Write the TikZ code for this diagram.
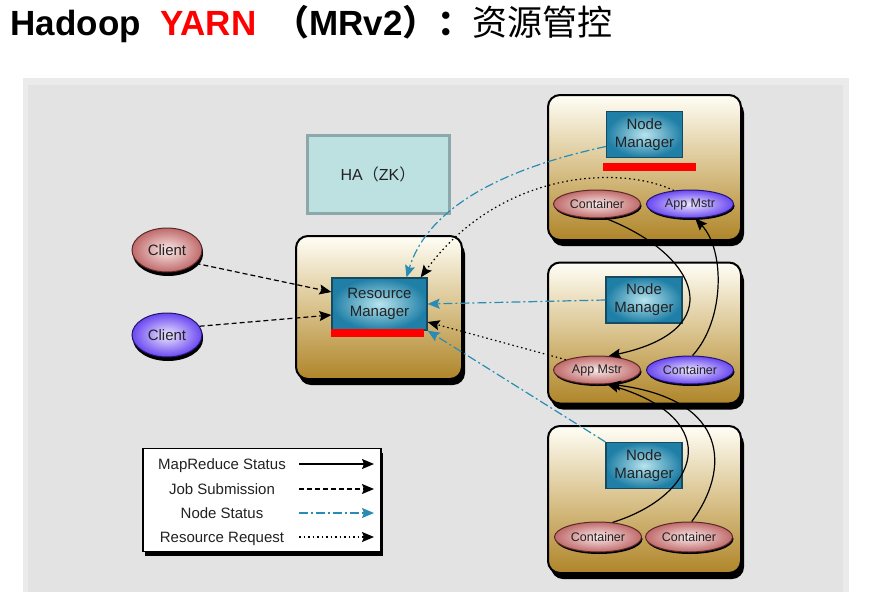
\documentclass[tikz,border=0pt]{standalone}
\usepackage{fontspec}
\setmainfont{Liberation Sans}
\newfontfamily\cjk{Noto Sans CJK SC}
\usetikzlibrary{shapes.geometric,shadows,arrows.meta}
\definecolor{tanTop}{HTML}{FFFEF6}
\definecolor{tanMid}{HTML}{D9C28C}
\definecolor{tanBot}{HTML}{AF8529}
\definecolor{nmIn}{HTML}{B8E4EE}
\definecolor{nmOut}{HTML}{1F7FA6}
\definecolor{nmDraw}{HTML}{164A60}
\definecolor{pinkIn}{HTML}{FBEAEA}
\definecolor{pinkOut}{HTML}{C06A6A}
\definecolor{pinkDraw}{HTML}{5A2A2A}
\definecolor{purpIn}{HTML}{EEE8FF}
\definecolor{purpOut}{HTML}{6A48F0}
\definecolor{purpDraw}{HTML}{231470}
\definecolor{nsBlue}{HTML}{2B8CB3}
\definecolor{haFill}{HTML}{BDE0E1}
\definecolor{haDraw}{HTML}{8CA8AA}
\definecolor{panelOuter}{HTML}{EBEBEB}
\definecolor{panelInner}{HTML}{E3E3E3}
\definecolor{txt}{HTML}{222222}
\tikzset{
 tanbox/.style={rectangle, rounded corners=12pt, draw=black, line width=2pt,
   top color=tanTop, bottom color=tanBot, middle color=tanMid,
   drop shadow={shadow xshift=3pt,shadow yshift=-6pt,fill=black,opacity=1}},
 nmbox/.style={rectangle, draw=nmDraw, line width=1.2pt, inner color=nmIn, outer color=nmOut,
   minimum width=76pt, minimum height=46pt, align=center, inner sep=0pt,
   font=\fontsize{15}{18}\selectfont, text=txt},
 pinkell/.style={ellipse, draw=pinkDraw, line width=1pt, inner color=pinkIn, outer color=pinkOut,
   minimum width=87pt, minimum height=28pt, inner sep=0pt, text=txt,
   font=\fontsize{12.5}{14}\selectfont,
   drop shadow={shadow xshift=1pt,shadow yshift=-2pt,fill=black,opacity=1}},
 purpell/.style={pinkell, draw=purpDraw, inner color=purpIn, outer color=purpOut},
 redbar/.style={rectangle, fill=red, draw=none, inner sep=0pt, minimum height=8pt},
 legtext/.style={anchor=base, font=\fontsize{15}{18}\selectfont, text=txt},
 arr/.style={-{Stealth[length=12pt,width=10pt,inset=2pt]}, line width=1.2pt},
 mrstat/.style={arr, black},
 jobsub/.style={arr, black, dash pattern=on 5pt off 3pt},
 nodestat/.style={arr, nsBlue, dash pattern=on 9pt off 3pt on 2pt off 3pt},
 resreq/.style={arr, black, dash pattern=on 1.5pt off 3pt},
}
\begin{document}
\begin{tikzpicture}[x=1pt,y=-1pt]
\useasboundingbox (0,0) rectangle (879,592);
\fill[white] (0,0) rectangle (879,592);
% panel
\fill[panelOuter] (23,78) rectangle (849,592);
\fill[panelInner] (28,85) rectangle (843,592);
% title
\node[anchor=base west, font=\fontsize{35}{42}\selectfont\bfseries] (t1) at (7,35) {Hadoop};
\node[anchor=base west, font=\fontsize{35}{42}\selectfont\bfseries, text=red] (t2) at (157,35) {YARN};
\node[anchor=base west, font=\fontsize{35}{42}\selectfont\bfseries] (t3) at (271,35) {{\cjk （}MRv2{\cjk ）：}{\cjk\mdseries 资源管控}};
% HA
\node[rectangle, fill=haFill, draw=haDraw, line width=3pt, minimum width=142pt, minimum height=78pt,
  font=\fontsize{16}{18}\selectfont, text=txt] (ha) at (378,174) {HA{\cjk （}ZK{\cjk ）}};
% resource manager
\node[tanbox, minimum width=166pt, minimum height=143pt] (rmb) at (379,307.5) {};
\node[nmbox, minimum width=95pt, minimum height=52pt] (rmi) at (379.5,304) {Resource\\Manager};
\node[redbar, minimum width=93pt] (rmred) at (377.5,333) {};
% node 1
\node[tanbox, minimum width=193pt, minimum height=145pt] (nb1) at (644.5,167.5) {};
\node[nmbox] (nm1) at (644.5,134.5) {Node\\Manager};
\node[redbar, minimum width=93pt] (nmred) at (649.5,167) {};
\node[pinkell] (c1) at (597,204) {Container};
\node[purpell] (am1) at (690,204) {App Mstr};
% node 2
\node[tanbox, minimum width=193pt, minimum height=141pt] (nb2) at (644.5,333) {};
\node[nmbox] (nm2) at (644,300) {Node\\Manager};
\node[pinkell] (am2) at (597,370) {App Mstr};
\node[purpell] (c2) at (690,370) {Container};
% node 3
\node[tanbox, minimum width=193pt, minimum height=147pt] (nb3) at (644.5,499.5) {};
\node[nmbox] (nm3) at (644,465.5) {Node\\Manager};
\node[pinkell, minimum height=30pt] (c3a) at (598,537) {Container};
\node[pinkell, minimum height=30pt] (c3b) at (689,537) {Container};
% clients
\node[pinkell, minimum width=70pt, minimum height=44pt, font=\fontsize{15}{18}\selectfont,
  drop shadow={shadow xshift=1pt,shadow yshift=-4pt,fill=black,opacity=1}] (cl1) at (167,250) {Client};
\node[purpell, minimum width=70pt, minimum height=44pt, font=\fontsize{15}{18}\selectfont,
  drop shadow={shadow xshift=1pt,shadow yshift=-4pt,fill=black,opacity=1}] (cl2) at (167,335) {Client};
% legend
\node[rectangle, draw=black, line width=1.5pt, fill=white, minimum width=238pt, minimum height=103pt,
  drop shadow={shadow xshift=2pt,shadow yshift=-4pt,fill=black,opacity=1}] (leg) at (262,500) {};
\node[legtext] (lt1) at (222,469) {MapReduce Status};
\node[legtext] (lt2) at (222,494) {Job Submission};
\node[legtext] (lt3) at (222,518.5) {Node Status};
\node[legtext] (lt4) at (222,542) {Resource Request};
\coordinate (la1) at (299,464); \coordinate (lb1) at (374,464);
\coordinate (la2) at (299,489); \coordinate (lb2) at (374,489);
\coordinate (la3) at (299,513); \coordinate (lb3) at (374,513);
\coordinate (la4) at (299,537); \coordinate (lb4) at (374,537);
\draw[mrstat] (la1) -- (lb1);
\draw[jobsub] (la2) -- (lb2);
\draw[nodestat] (la3) -- (lb3);
\draw[resreq] (la4) -- (lb4);
% connectors
\draw[jobsub] (cl1.-25) -- ([yshift=12pt]rmi.west);
\draw[jobsub] (cl2.15) -- ([yshift=-11pt]rmi.west);
\draw[nodestat] ([yshift=-12pt]nm1.west) .. controls (520,165) and (430,200) .. ([xshift=27pt]rmi.north);
\draw[resreq] (am1.140) .. controls (620,165) and (500,170) .. ([xshift=-7pt]rmi.north east);
\draw[nodestat] (nm2.west) -- (rmi.east);
\draw[resreq] (am2.north west) -- ([yshift=-18pt]rmi.east);
\draw[nodestat] (nm3.north west) -- (rmi.south east);
\draw[mrstat] (c1.-60) .. controls (700,255) and (730,330) .. (am2.50);
\draw[mrstat] (c2.80) .. controls (725,320) and (725,250) .. (am1.-70);
\draw[mrstat] (c3a.45) .. controls (700,495) and (725,420) .. (am2.-55);
\draw[mrstat] (c3b.80) .. controls (730,470) and (730,400) .. (am2.-50);
\end{tikzpicture}
\end{document}
